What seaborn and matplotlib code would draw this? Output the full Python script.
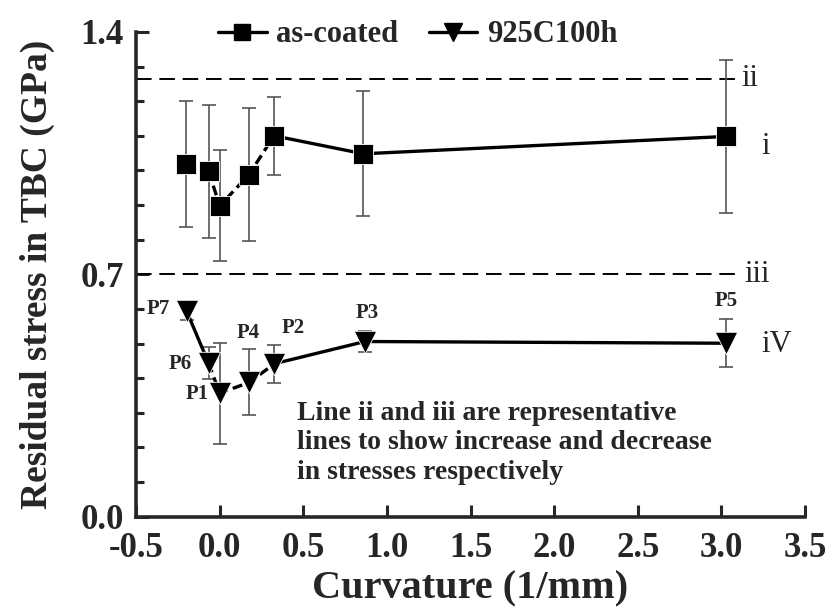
import numpy as np
import pandas as pd
import matplotlib
matplotlib.use("Agg")
import matplotlib.pyplot as plt
from matplotlib.lines import Line2D
from matplotlib.ticker import MultipleLocator
import seaborn as sns

# as-coated samples
coated_x = [-0.20, -0.067, 0.0, 0.174, 0.325, 0.859, 3.025]
coated_y = [1.018, 0.998, 0.898, 0.987, 1.100, 1.048, 1.098]
coated_err = [0.182, 0.192, 0.160, 0.192, 0.113, 0.181, 0.221]

# 925C100h samples (P7, P6, P1, P4, P2, P3, P5)
aged_x = [-0.197, -0.067, 0.0, 0.178, 0.327, 0.869, 3.027]
aged_y = [0.593, 0.444, 0.357, 0.388, 0.442, 0.506, 0.501]
aged_err = [0.024, 0.046, 0.146, 0.095, 0.055, 0.031, 0.070]
aged_names = ["P7", "P6", "P1", "P4", "P2", "P3", "P5"]

# reference lines
line_ii = 1.265
line_iii = 0.70

sns.set_style("ticks")
plt.rcParams['font.family'] = ['Liberation Serif', 'DejaVu Serif']
plt.rcParams['font.weight'] = 'bold'

df_c = pd.DataFrame({"x": coated_x, "y": coated_y, "err": coated_err})
df_a = pd.DataFrame({"x": aged_x, "y": aged_y, "err": aged_err})

fig = plt.figure(figsize=(8.35, 6.13), dpi=100)
ax = fig.add_axes([0.163, 0.157, 0.801, 0.791])

# reference lines ii and iii
for yv in [line_ii, line_iii]:
    ax.plot([-0.5, 3.12], [yv, yv], color='black', lw=1.4, linestyle=(0, (8, 4)))

# error bars
ax.errorbar(df_c.x, df_c.y, yerr=df_c.err, fmt='none', ecolor='#555555',
            elinewidth=1.2, capsize=5, capthick=1.2, zorder=2)
ax.errorbar(df_a.x, df_a.y, yerr=df_a.err, fmt='none', ecolor='#555555',
            elinewidth=1.2, capsize=5, capthick=1.2, zorder=2)

dash = (0, (3, 1.6))
# connecting lines: dashed for low curvature, solid further out
sns.lineplot(data=df_c.iloc[1:5], x="x", y="y", sort=False, ax=ax, color='black',
             lw=2.4, linestyle=dash, zorder=3)
sns.lineplot(data=df_c.iloc[4:7], x="x", y="y", sort=False, ax=ax, color='black',
             lw=2.4, zorder=3)
sns.lineplot(data=df_a.iloc[0:2], x="x", y="y", sort=False, ax=ax, color='black',
             lw=2.4, zorder=3)
sns.lineplot(data=df_a.iloc[1:5], x="x", y="y", sort=False, ax=ax, color='black',
             lw=2.4, linestyle=dash, zorder=3)
sns.lineplot(data=df_a.iloc[4:7], x="x", y="y", sort=False, ax=ax, color='black',
             lw=2.4, zorder=3)

sns.scatterplot(data=df_c, x="x", y="y", marker='s', s=190, color='black',
                edgecolor='white', linewidth=0.6, ax=ax, zorder=4)
sns.scatterplot(data=df_a, x="x", y="y", marker='v', s=260, color='black',
                edgecolor='white', linewidth=0.6, ax=ax, zorder=4)

# point labels
label_pos = {"P7": (-0.37, 0.60), "P6": (-0.237, 0.442), "P1": (-0.135, 0.355),
             "P4": (0.17, 0.531), "P2": (0.44, 0.546), "P3": (0.88, 0.589),
             "P5": (3.03, 0.622)}
for n in aged_names:
    lx, ly = label_pos[n]
    ax.text(lx, ly, n, fontsize=15, fontweight='bold', ha='center', va='center')

# roman numerals
for txt, lx, ly in [("ii", 3.12, line_ii), ("i", 3.24, 1.07),
                    ("iii", 3.14, line_iii), ("iV", 3.24, 0.497)]:
    ax.text(lx, ly, txt, fontsize=22, fontweight='normal', ha='left', va='center')

ax.text(0.46, 0.335, "Line ii and iii are representative\nlines to show increase and decrease\nin stresses respectively",
        fontsize=20, fontweight='bold', ha='left', va='top', linespacing=1.25)

ax.set_xlim(-0.5, 3.5)
ax.set_ylim(0.0, 1.4)
ax.set_xticks(np.arange(-0.5, 3.51, 0.5))
ax.set_yticks([0.0, 0.7, 1.4])
ax.yaxis.set_minor_locator(MultipleLocator(0.1))
ax.set_xticklabels([f"{v:.1f}" for v in np.arange(-0.5, 3.51, 0.5)])
ax.tick_params(axis='both', which='major', direction='in', length=9, width=2.2,
               labelsize=25)
ax.tick_params(axis='x', which='major', pad=11)
ax.tick_params(axis='y', which='major', pad=9)
ax.tick_params(axis='y', which='minor', direction='in', length=6, width=2.2)
for lab in ax.get_xticklabels() + ax.get_yticklabels():
    lab.set_fontweight('bold')

sns.despine(ax=ax)
for s in ['left', 'bottom']:
    ax.spines[s].set_linewidth(2.6)

ax.set_xlabel("Curvature (1/mm)", fontsize=29, fontweight='bold', labelpad=4)
ax.set_ylabel("Residual stress in TBC (GPa)", fontsize=27, fontweight='bold', labelpad=18)

handles = [Line2D([], [], color='black', lw=2.4, marker='s', markersize=11),
           Line2D([], [], color='black', lw=2.4, marker='v', markersize=13)]
fig.legend(handles, ["as-coated", "925C100h"], loc='center', bbox_to_anchor=(0.50, 0.943),
           ncol=2, frameon=False, handlelength=1.6, columnspacing=1.0, handletextpad=0.3,
           prop={'size': 22, 'weight': 'bold'})

fig.savefig("out.png", dpi=100)
